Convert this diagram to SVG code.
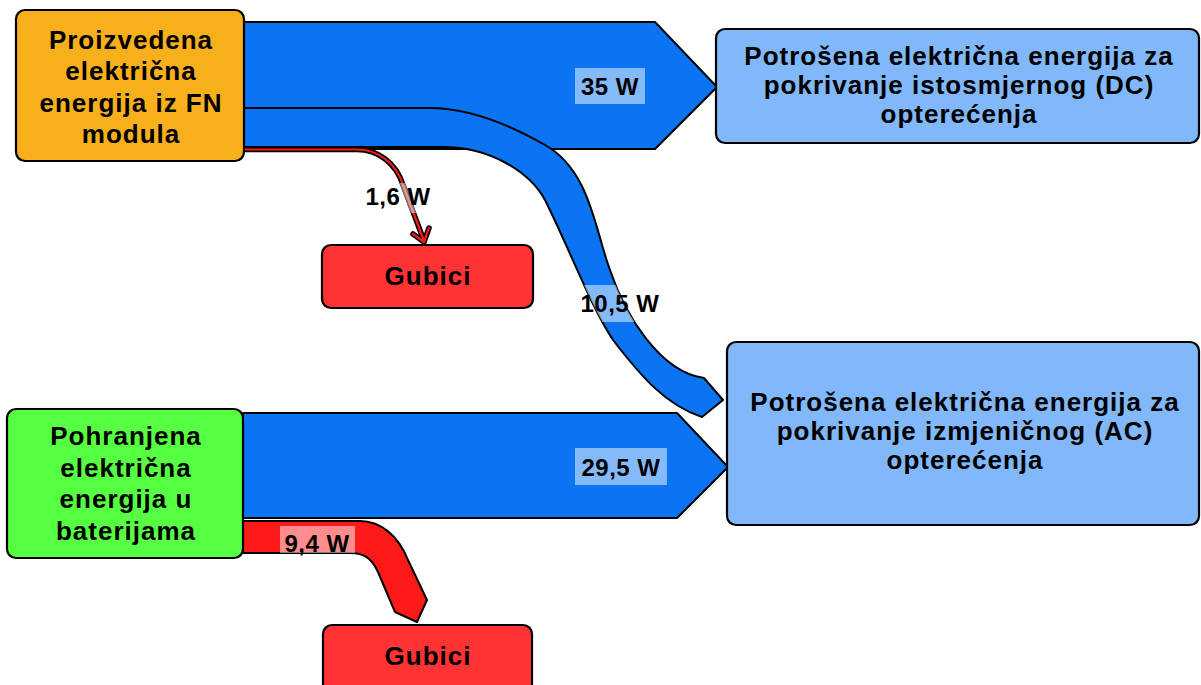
<svg xmlns="http://www.w3.org/2000/svg" xmlns:xlink="http://www.w3.org/1999/xlink" width="1201" height="685" viewBox="0 0 1201 685">
<style>
.node{stroke:#000;stroke-width:2.2}
.band{stroke:#000;stroke-width:2;stroke-linejoin:round}
.blue{fill:#0A74F2}
.red{fill:#FF1A1A}
.nt{font-family:"Liberation Sans",Arial,sans-serif;font-weight:bold;font-size:26px;letter-spacing:1px;fill:#000;text-anchor:middle}
.lt{font-family:"Liberation Sans",Arial,sans-serif;font-weight:bold;font-size:24px;letter-spacing:0.5px;fill:#000;text-anchor:middle}
.hl{fill:#fff;fill-opacity:0.5;stroke:none}
</style>
<defs>
<path id="p35" d="M244,22 L655,22 L717,87 L655,149 L244,149 Z"/>
<path id="p295" d="M243,413 L677,413 L728,467 L677,518 L243,518 Z"/>
<path id="p105" d="M244,108 L430,108 C470,108 510,125 545,145 C590,170 595,230 610,270 C625,315 660,372 704,378 L723,400 L702,417 C665,405 640,375 613,340 C590,305 570,250 545,200 C530,172 490,147 443,147 L244,147 Z"/>
<path id="p94" d="M243,521 H360 C380,521 398,535 408,560 L427,600 L417,622 L395,612 L378,572 C372,559 365,553 350,553 H243 Z"/>
<path id="p16" d="M244,149.5 H357 C378,149.5 396,163 403,185 L424,241"/>
<clipPath id="c35"><rect x="575" y="68" width="70" height="36"/></clipPath>
<clipPath id="c295"><rect x="575" y="448" width="92" height="37"/></clipPath>
<clipPath id="c105"><rect x="577" y="285" width="86" height="37"/></clipPath>
<clipPath id="c94"><rect x="280" y="526" width="75" height="28"/></clipPath>
<clipPath id="c16"><rect x="363" y="183" width="70" height="30"/></clipPath>
</defs>

<g id="connectors">
<use xlink:href="#p35" class="band blue"/>
<use xlink:href="#p295" class="band blue"/>
<use xlink:href="#p105" class="band blue"/>
<use xlink:href="#p94" class="band red"/>
<g fill="none" stroke-linejoin="round" stroke-linecap="round">
<use xlink:href="#p16" stroke="#000" stroke-width="5.5"/>
<path d="M413,234 L424,242 L429,228" stroke="#000" stroke-width="5.5"/>
<use xlink:href="#p16" stroke="#FF1A1A" stroke-width="2.2"/>
<path d="M413,234 L424,242 L429,228" stroke="#FF1A1A" stroke-width="2.2"/>
</g>
<use xlink:href="#p35" class="hl" clip-path="url(#c35)"/>
<use xlink:href="#p295" class="hl" clip-path="url(#c295)"/>
<use xlink:href="#p105" class="hl" clip-path="url(#c105)"/>
<use xlink:href="#p94" class="hl" clip-path="url(#c94)"/>
<use xlink:href="#p16" fill="none" stroke="#fff" stroke-opacity="0.5" stroke-width="5" clip-path="url(#c16)"/>
<text class="lt" x="610" y="95">35 W</text>
<text class="lt" x="621" y="476">29,5 W</text>
<text class="lt" x="620" y="312">10,5 W</text>
<text class="lt" x="317" y="552">9,4 W</text>
<text class="lt" x="398" y="205">1,6 W</text>
</g>

<g id="node-fn">
<rect class="node" x="16" y="10" width="228" height="151" rx="9" fill="#F8AF1C"/>
<text class="nt" x="131" y="49">Proizvedena</text>
<text class="nt" x="131" y="80">električna</text>
<text class="nt" x="131" y="112">energija iz FN</text>
<text class="nt" x="131" y="143">modula</text>
</g>

<g id="node-bat">
<rect class="node" x="7" y="409" width="236" height="149" rx="9" fill="#56FF41"/>
<text class="nt" x="126" y="445">Pohranjena</text>
<text class="nt" x="126" y="477">električna</text>
<text class="nt" x="126" y="508">energija u</text>
<text class="nt" x="126" y="540">baterijama</text>
</g>

<g id="node-dc">
<rect class="node" x="716" y="29" width="483" height="114" rx="9" fill="#80B8FA"/>
<text class="nt" x="959" y="65">Potrošena električna energija za</text>
<text class="nt" x="959" y="94">pokrivanje istosmjernog (DC)</text>
<text class="nt" x="959" y="123">opterećenja</text>
</g>

<g id="node-ac">
<rect class="node" x="727" y="342" width="472" height="183" rx="9" fill="#80B8FA"/>
<text class="nt" x="965" y="411">Potrošena električna energija za</text>
<text class="nt" x="965" y="440">pokrivanje izmjeničnog (AC)</text>
<text class="nt" x="965" y="469">opterećenja</text>
</g>

<g id="node-gubici1">
<rect class="node" x="322" y="245" width="211" height="63" rx="9" fill="#FF3333"/>
<text class="nt" x="428" y="285">Gubici</text>
</g>

<g id="node-gubici2">
<rect class="node" x="323" y="625" width="209" height="72" rx="9" fill="#FF3333"/>
<text class="nt" x="428" y="665">Gubici</text>
</g>
</svg>
